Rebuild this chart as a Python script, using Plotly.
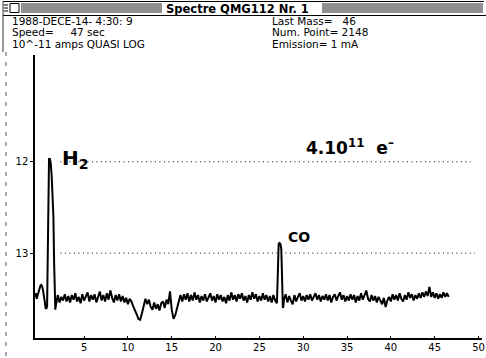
import plotly.graph_objects as go

# ---------------- data ----------------
# mass axis (amu) and signal as exponent of 10^-x A (axis shows 12, 13)
mass_start = [-0.6, -0.5, -0.4, -0.3, -0.2, -0.1, 0.0, 0.1, 0.2, 0.3, 0.4, 0.5, 0.6, 0.7, 0.78]
signal_start = [13.48, 13.44, 13.50, 13.46, 13.42, 13.38, 13.36, 13.35, 13.36, 13.40, 13.45, 13.52, 13.60, 13.61, 13.58]

mass_h2 = [0.85, 0.9, 0.95, 1.0, 1.1, 1.2, 1.3, 1.4, 1.5, 1.58, 1.65, 1.72]
signal_h2 = [13.0, 12.2, 12.0, 11.97, 11.97, 12.02, 12.15, 12.35, 12.6, 13.1, 13.55, 13.62]

# baseline 1.8 .. 27.0, step 0.2
signal_b1 = [13.56, 13.46, 13.54, 13.48, 13.52, 13.45, 13.53, 13.47, 13.54, 13.46,
             13.51, 13.44, 13.53, 13.48, 13.55, 13.45, 13.52, 13.47, 13.43, 13.53,
             13.46, 13.51, 13.45, 13.54, 13.47, 13.42, 13.52, 13.46, 13.53, 13.44,
             13.51, 13.41, 13.49, 13.54, 13.46, 13.52, 13.45, 13.53, 13.47, 13.54,
             13.49, 13.56, 13.50, 13.53, 13.58, 13.62, 13.67, 13.72, 13.73, 13.66,
             13.58, 13.50, 13.56, 13.51, 13.59, 13.62, 13.54, 13.61, 13.56, 13.63,
             13.55, 13.53, 13.60, 13.51, 13.56, 13.42, 13.62, 13.72, 13.68, 13.60,
             13.53, 13.46, 13.53, 13.45, 13.51, 13.44, 13.53, 13.46, 13.52, 13.43,
             13.51, 13.46, 13.54, 13.47, 13.52, 13.45, 13.53, 13.48, 13.44, 13.52,
             13.47, 13.54, 13.45, 13.51, 13.46, 13.53, 13.48, 13.55, 13.46, 13.52,
             13.43, 13.51, 13.46, 13.53, 13.45, 13.50, 13.44, 13.52, 13.47, 13.54,
             13.46, 13.51, 13.43, 13.50, 13.45, 13.53, 13.47, 13.52, 13.44, 13.51,
             13.46, 13.53, 13.47, 13.54, 13.46, 13.52, 13.55]

mass_co = [27.08, 27.14, 27.2, 27.3, 27.4, 27.5, 27.56, 27.62, 27.68, 27.74]
signal_co = [13.3, 12.95, 12.9, 12.89, 12.9, 12.95, 13.1, 13.35, 13.6, 13.58]

# baseline 27.8 .. 46.6, step 0.2
signal_b2 = [13.51, 13.45, 13.54, 13.47, 13.52, 13.56, 13.46, 13.53, 13.48, 13.44,
             13.52, 13.47, 13.53, 13.46, 13.51, 13.45, 13.52, 13.47, 13.44, 13.51,
             13.46, 13.53, 13.47, 13.51, 13.45, 13.52, 13.46, 13.54, 13.48, 13.45,
             13.52, 13.47, 13.43, 13.51, 13.46, 13.53, 13.47, 13.52, 13.45, 13.51,
             13.46, 13.54, 13.47, 13.52, 13.44, 13.51, 13.46, 13.41, 13.50, 13.53,
             13.46, 13.52, 13.47, 13.54, 13.48, 13.53, 13.56, 13.49, 13.59, 13.52,
             13.48, 13.53, 13.45, 13.51, 13.46, 13.52, 13.44, 13.50, 13.53, 13.46,
             13.51, 13.43, 13.49, 13.45, 13.52, 13.46, 13.50, 13.44, 13.49, 13.43,
             13.48, 13.42, 13.47, 13.37, 13.48, 13.43, 13.49, 13.44, 13.50, 13.45,
             13.49, 13.43, 13.48, 13.44, 13.48]

x_ticks = [5, 10, 15, 20, 25, 30, 35, 40, 45, 50]
y_ticks = [12, 13]
header_left = ["1988-DECE-14- 4:30: 9", "Speed=     47 sec", "10^-11 amps QUASI LOG"]
header_right = ["Last Mass=   46", "Num. Point= 2148", "Emission= 1 mA"]
title = "Spectre QMG112 Nr. 1"

mass_b1 = [round(1.8 + 0.2 * i, 2) for i in range(len(signal_b1))]
mass_b2 = [round(27.8 + 0.2 * i, 2) for i in range(len(signal_b2))]
mass = mass_start + mass_h2 + mass_b1 + mass_co + mass_b2
signal = signal_start + signal_h2 + signal_b1 + signal_co + signal_b2

# ---------------- layout geometry ----------------
W, H = 486, 358
ML, MR, MT, MB = 35, 4, 55, 20
PW, PH = W - ML - MR, H - MT - MB


def px(x, y):
    """pixel -> paper coordinates"""
    return (x - ML) / PW, (H - MB - y) / PH


fig = go.Figure()
fig.add_trace(go.Scatter(x=mass, y=signal, mode="lines",
                         line=dict(color="black", width=2), hoverinfo="skip"))

shapes = []
# dotted reference lines
for yv, x1 in zip(y_ticks, [49.1, 49.6]):
    shapes.append(dict(type="line", xref="x", yref="y", x0=2.3, x1=x1, y0=yv, y1=yv,
                       line=dict(color="black", width=1, dash="1px,3.5px")))


def pline(x0, y0, x1, y1, color="black", width=1, dash="solid"):
    a0, b0 = px(x0, y0)
    a1, b1 = px(x1, y1)
    shapes.append(dict(type="line", xref="paper", yref="paper", x0=a0, y0=b0, x1=a1, y1=b1,
                       line=dict(color=color, width=width, dash=dash)))


# window frame
pline(3, 1.5, 484, 1.5, width=1)
pline(3, 15.5, 486, 15.5, width=1)
pline(3, 1.5, 3, 52, color="#333", width=1)
pline(6, 52, 6, 358, color="#555", width=1, dash="4px,6px")
# title bar stripes
for yy in [4, 6, 8, 10, 12]:
    pline(21, yy, 162, yy, color="#222", width=1)
    pline(322, yy, 483, yy, color="#222", width=1)
# icon at left
for yy in [5, 8, 11]:
    pline(4, yy, 8, yy, width=1)
# close box
a0, b0 = px(10, 3.5)
a1, b1 = px(19, 12.5)
shapes.append(dict(type="rect", xref="paper", yref="paper", x0=a0, y0=b0, x1=a1, y1=b1,
                   line=dict(color="black", width=1), fillcolor="white"))

annotations = []


def ptext(x, y, text, size=10, anchor="left", family="DejaVu Sans"):
    a, b = px(x, y)
    annotations.append(dict(xref="paper", yref="paper", x=a, y=b, text=text,
                            showarrow=False, xanchor=anchor, yanchor="middle",
                            borderpad=0,
                            font=dict(family=family, size=size, color="black")))


ptext(237, 9, "<b>" + title + "</b>", size=11.5, anchor="center")
for i, t in enumerate(header_left):
    ptext(11, 21 + 11.3 * i, t, size=10.5)
for i, t in enumerate(header_right):
    ptext(271, 21 + 11.3 * i, t, size=10.5)

# hand-written labels
annotations.append(dict(xref="x", yref="y", x=4.0, y=11.97, text="<b>H<sub>2</sub></b>",
                        showarrow=False, font=dict(family="DejaVu Sans", size=20, color="black")))
annotations.append(dict(xref="x", yref="y", x=35.3, y=11.84,
                        text="<b>4.10<sup>11</sup>  e<sup>–</sup></b>",
                        showarrow=False, font=dict(family="DejaVu Sans", size=17, color="black")))
annotations.append(dict(xref="x", yref="y", x=29.5, y=12.82, text="<b>CO</b>",
                        showarrow=False, font=dict(family="DejaVu Sans", size=14, color="black")))

fig.update_layout(
    width=W, height=H,
    margin=dict(l=ML, r=MR, t=MT, b=MB, autoexpand=False),
    paper_bgcolor="white", plot_bgcolor="white",
    showlegend=False,
    shapes=shapes, annotations=annotations,
    xaxis=dict(range=[-0.6, 50.4], tickvals=x_ticks, ticktext=[str(v) for v in x_ticks],
               showline=True, linecolor="black", linewidth=1.5, showgrid=False, zeroline=False,
               ticks="inside", ticklen=2, tickcolor="black", automargin=False,
               ticklabelstandoff=-1,
               tickfont=dict(family="DejaVu Sans", size=10, color="black")),
    yaxis=dict(range=[13.93, 10.83], tickvals=y_ticks, ticktext=[str(v) for v in y_ticks],
               showline=True, linecolor="black", linewidth=1.5, showgrid=False, zeroline=False,
               ticks="outside", ticklen=3, tickcolor="black", automargin=False,
               tickfont=dict(family="DejaVu Sans", size=10, color="black")),
)

fig.write_html("out.html", config={"displayModeBar": False},
               post_script="document.body.style.margin='0';")
